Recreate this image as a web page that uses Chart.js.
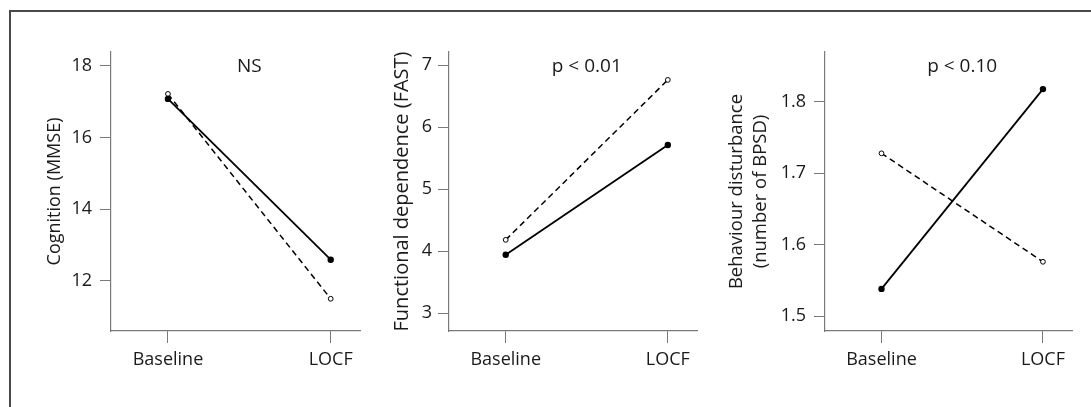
<!DOCTYPE html>
<html>
<head>
<meta charset="utf-8">
<script src="https://cdn.jsdelivr.net/npm/chart.js@4/dist/chart.umd.min.js"></script>
<style>
  html, body { margin: 0; padding: 0; background: #fff; }
  body { width: 1091px; height: 407px; position: relative; overflow: hidden; }
  .frame { position: absolute; left: 9px; top: 10px; right: -20px; bottom: -20px;
           border-left: 2px solid #4a4a4a; border-top: 2px solid #4a4a4a; }
  canvas { position: absolute; top: 0; }
</style>
</head>
<body>
<div class="frame"></div>
<canvas id="cognitionChart" width="330" height="407" style="left:43px"></canvas>
<canvas id="fastChart" width="320" height="407" style="left:389px"></canvas>
<canvas id="bpsdChart" width="366" height="407" style="left:725px"></canvas>
<script>
const categories = ['Baseline', 'LOCF']

const cognitionSolid = [17.08, 12.59]
const cognitionDashed = [17.22, 11.5]
const cognitionTicks = [12, 14, 16, 18]

const fastSolid = [3.94, 5.71]
const fastDashed = [4.18, 6.76]
const fastTicks = [3, 4, 5, 6, 7]

const bpsdSolid = [1.538, 1.818]
const bpsdDashed = [1.728, 1.576]
const bpsdTicks = [1.5, 1.6, 1.7, 1.8]

const textColor = '#1a1a1a'
const axisColor = '#7a7a7a'
const fontFamily = "'Open Sans', sans-serif"

function toPoints(values) {
    return values.map((v, i) => ({x: i + 1, y: v}))
}

const pValueLabel = {
    id: 'pValueLabel',
    afterDatasetsDraw(chart, args, options) {
        const ctx = chart.ctx
        const x = chart.scales.x.getPixelForValue(1.5)
        const y = chart.chartArea.top + 15
        ctx.save()
        ctx.fillStyle = textColor
        ctx.font = `19px ${fontFamily}`
        ctx.textAlign = 'center'
        ctx.textBaseline = 'middle'
        ctx.fillText(options.text, x, y)
        ctx.restore()
    },
}

function drawPanel(canvasId, cfg) {
    const ctx = document.getElementById(canvasId).getContext('2d')
    new Chart(ctx, {
        type: 'line',
        plugins: [pValueLabel],
        data: {
            datasets: [
                {
                    label: 'solid',
                    data: toPoints(cfg.solid),
                    borderColor: '#000',
                    borderWidth: 1.8,
                    pointRadius: 3.2,
                    pointBackgroundColor: '#000',
                    pointBorderWidth: 0,
                    clip: false,
                },
                {
                    label: 'dashed',
                    data: toPoints(cfg.dashed),
                    borderColor: '#000',
                    borderWidth: 1.5,
                    borderDash: [6, 4],
                    pointRadius: 2.4,
                    pointBackgroundColor: '#fff',
                    pointBorderColor: '#000',
                    pointBorderWidth: 1,
                    clip: false,
                },
            ],
        },
        options: {
            responsive: false,
            animation: false,
            devicePixelRatio: 1,
            layout: {
                autoPadding: false,
                padding: {top: 52, right: cfg.rightPad, bottom: 0, left: 0},
            },
            plugins: {
                legend: {display: false},
                tooltip: {enabled: false},
                pValueLabel: {text: cfg.label},
            },
            scales: {
                x: {
                    type: 'linear',
                    min: 0.65,
                    max: 2.18,
                    afterFit: scale => { scale.height = 76 },
                    afterBuildTicks: scale => { scale.ticks = categories.map((c, i) => ({value: i + 1})) },
                    ticks: {
                        color: textColor,
                        font: {family: fontFamily, size: 18},
                        padding: 6,
                        autoSkip: false,
                        maxRotation: 0,
                        callback: value => categories[value - 1],
                    },
                    grid: {drawOnChartArea: false, drawTicks: true, tickLength: 12, tickColor: axisColor},
                    border: {display: true, color: axisColor, width: 1.2},
                },
                y: {
                    min: cfg.min,
                    max: cfg.max,
                    afterFit: scale => { scale.width = cfg.axisWidth },
                    afterBuildTicks: scale => { scale.ticks = cfg.ticks.map(v => ({value: v})) },
                    ticks: {
                        color: textColor,
                        font: {family: fontFamily, size: 18},
                        padding: cfg.tickPad,
                        callback: value => cfg.decimals ? value.toFixed(cfg.decimals) : value,
                    },
                    grid: {drawOnChartArea: false, drawTicks: true, tickLength: 11, tickColor: axisColor},
                    border: {display: true, color: axisColor, width: 1.2},
                    title: {
                        display: true,
                        text: cfg.title,
                        color: textColor,
                        padding: 0,
                        font: {family: fontFamily, size: cfg.titleSize, lineHeight: 1.3},
                    },
                },
            },
        },
    })
}

drawPanel('cognitionChart', {
    solid: cognitionSolid, dashed: cognitionDashed, ticks: cognitionTicks,
    min: 10.6, max: 18.39, label: 'NS', title: 'Cognition (MMSE)', titleSize: 18,
    axisWidth: 68, rightPad: 13, tickPad: 8, decimals: 0,
})
drawPanel('fastChart', {
    solid: fastSolid, dashed: fastDashed, ticks: fastTicks,
    min: 2.71, max: 7.21, label: 'p < 0.01', title: 'Functional dependence (FAST)', titleSize: 20,
    axisWidth: 60, rightPad: 12, tickPad: 6, decimals: 0,
})
drawPanel('bpsdChart', {
    solid: bpsdSolid, dashed: bpsdDashed, ticks: bpsdTicks,
    min: 1.479, max: 1.87, label: 'p < 0.10', title: ['Behaviour disturbance', '(number of BPSD)'], titleSize: 18.5,
    axisWidth: 100, rightPad: 19, tickPad: 8, decimals: 1,
})
</script>
</body>
</html>
